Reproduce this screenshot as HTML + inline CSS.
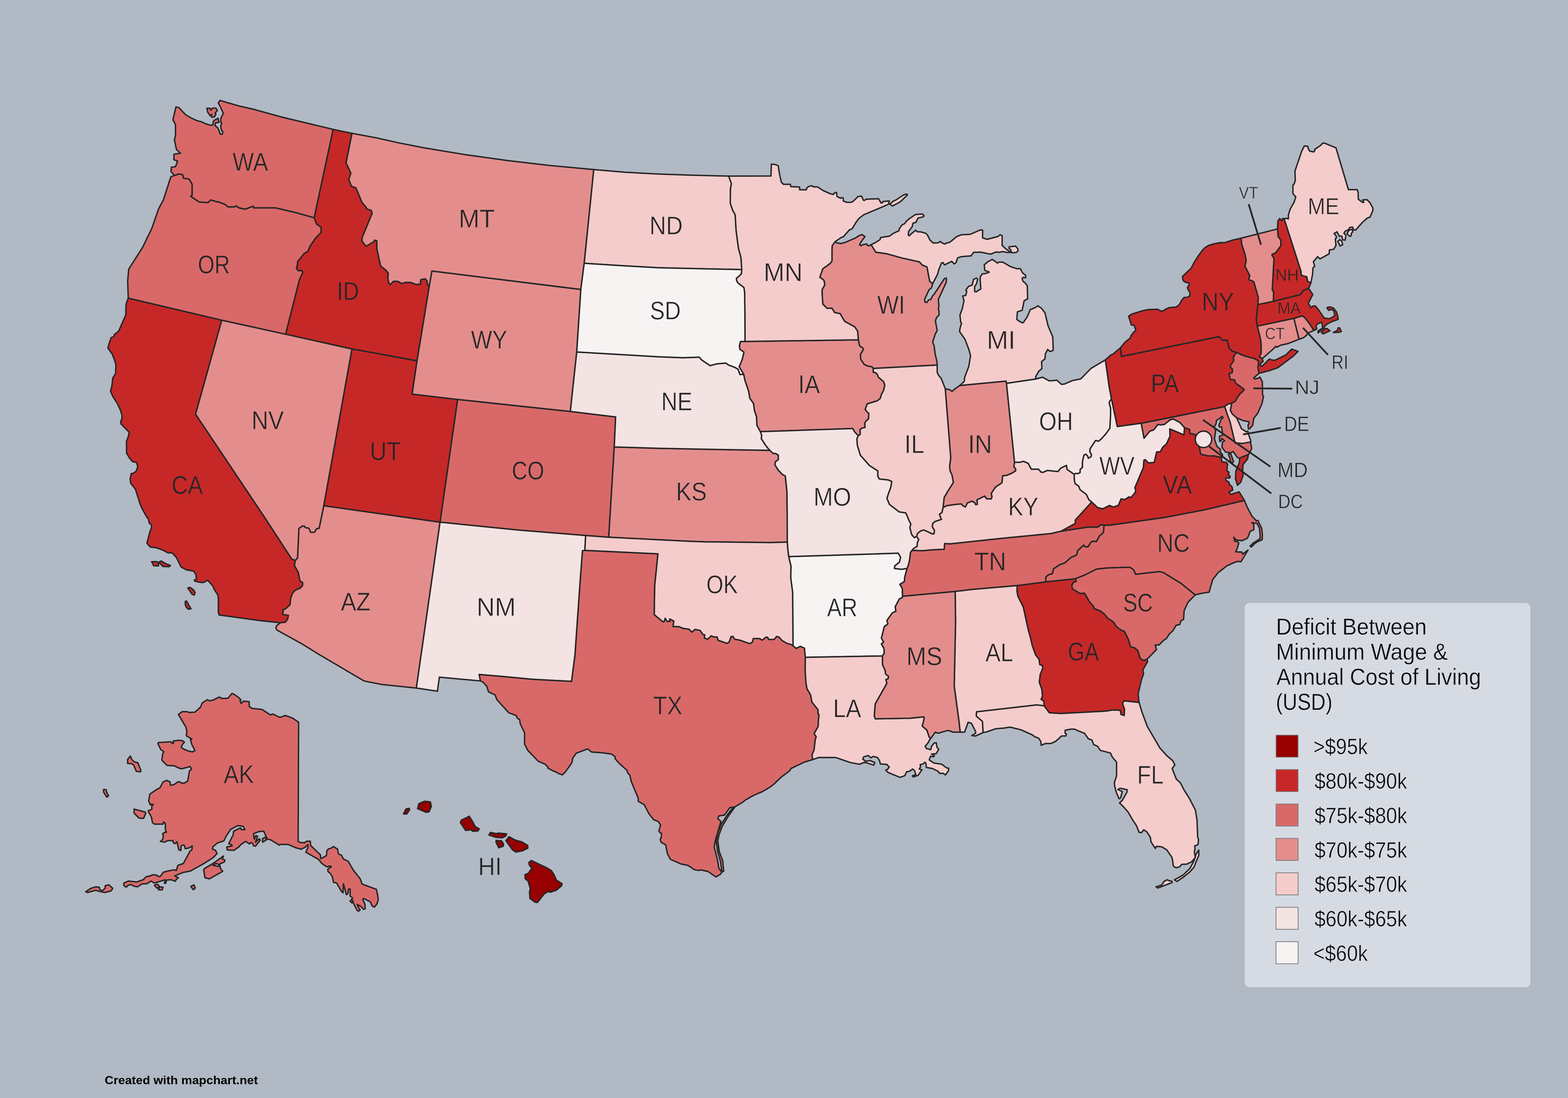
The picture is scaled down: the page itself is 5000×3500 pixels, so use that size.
<!DOCTYPE html>
<html lang="en"><head><meta charset="utf-8"><title>Deficit Between Minimum Wage &amp; Annual Cost of Living (USD)</title>
<style>html,body{margin:0;padding:0;background:#b1b9c4}body{width:5000px;height:3500px}svg{display:block}text{font-family:"Liberation Sans",sans-serif;white-space:pre}.st path,.st circle{fill-rule:evenodd;stroke:#262626;stroke-width:4.5;stroke-linejoin:round;stroke-linecap:round}.ld path{stroke:#262626;stroke-width:5.6;fill:none;stroke-linecap:butt}</style></head><body>
<svg role="img" aria-label="US states map: deficit between minimum wage and annual cost of living" width="5000" height="3500" viewBox="0 0 5000 3500">
<rect width="5000" height="3500" fill="#b1b9c4"/>
<g class="st">
<path id="AK" fill="#d96969" d="M739,2211.1 742.8,2211.1 759.6,2222.2 768.7,2231.3 765.3,2234.1 769.2,2242.3 776.4,2235.1 794.1,2236.5 795,2251.9 803.7,2258.1 835.8,2261.4 862.6,2279.2 869.3,2275.8 892.3,2286.8 910.5,2280.6 933,2289.2 952.2,2302.2 950.7,2682.1 957,2685.4 971.3,2686.4 977.6,2681.6 989.5,2681.6 990.5,2695 1021.6,2724.7 1023.1,2737.2 1040.8,2727.6 1042.2,2711.8 1048,2705.6 1054.2,2704.6 1063.3,2698.4 1076.7,2707 1079.1,2721.4 1089.7,2727.1 1094.9,2738.1 1110.3,2745.3 1127,2774.1 1148.6,2801.4 1154.8,2818.2 1200.3,2834.9 1204.7,2855.5 1206.1,2867.5 1202.7,2880.4 1194.1,2891.5 1186.9,2888.1 1180.7,2874.7 1159.6,2864.1 1156.8,2867.5 1163.9,2881.9 1164.4,2897.2 1159.6,2898.6 1151,2890 1139,2882.8 1143.8,2893.9 1148.6,2900.1 1143.8,2904.4 1139,2902.5 1127,2879.5 1124.7,2869.9 1122.3,2878 1116,2872.3 1124.7,2862.7 1116.5,2856.5 1116.5,2834 1111.7,2834 1108.8,2849.8 1104.5,2851.7 1094.9,2817.2 1094,2845.9 1088.7,2841.1 1073.4,2814.8 1063.3,2812.4 1060,2795.6 1052.8,2783.7 1045.6,2777.9 1045.6,2770.2 1056.6,2762.1 1051.8,2760.7 1041.8,2763.1 1026.4,2752.5 1015.9,2739.6 975.2,2716.6 981.9,2702.2 981.9,2692.6 972.3,2701.3 960.3,2707 942.6,2702.2 918.6,2691.7 893.7,2691.7 890.9,2694.1 862.6,2676.8 852.5,2674.9 841,2649.5 825.2,2650.9 808.4,2657.7 810.8,2674.9 815.6,2663.9 821.4,2665.3 814.7,2684.5 826.7,2673.5 830,2678.3 814.7,2697.4 808.4,2696 806.1,2689.3 800.3,2685.4 795.5,2690.2 783.1,2682.1 767.7,2692.6 761.5,2699.8 746.2,2710.4 724.6,2709.4 723.2,2699.8 739.9,2696.5 739,2692.6 729.4,2689.3 743.8,2660.5 744.7,2649.5 766.8,2639 770.1,2644.7 781.1,2644.7 774.9,2633.7 758.1,2631.8 735.6,2643.8 721.3,2665.3 713.6,2680.7 693.5,2686.9 679.1,2698.9 677.7,2707 687.2,2710.4 692,2720.4 680.5,2733.4 650.3,2752.5 607.2,2776.5 583.3,2781.3 556.9,2791.8 568.9,2798 561.7,2803.8 559.3,2809.1 545.9,2804.3 531.5,2805.2 528.2,2815.8 524.3,2815.8 527.2,2804.3 492.2,2814.8 481.7,2808.6 468.3,2817.2 453.9,2817.2 438.1,2826.8 428.5,2825.3 417,2819.6 407,2822.9 402.7,2828.2 395,2823.4 395,2814.8 409.4,2808.6 436.2,2811.4 456.3,2804.3 465.9,2794.7 477.9,2792.3 487.5,2788.4 499.4,2789.4 506.6,2794.7 511.4,2793.2 521,2780.3 535.4,2776.5 555.5,2772.6 561.7,2775 567.5,2758.3 584.7,2752.5 605.8,2713.2 612,2708.4 613,2696 604.8,2702.2 590.5,2705.6 588.1,2695 581.8,2693.6 577.5,2697.4 577,2710.8 570.3,2709.4 564.1,2683 558.4,2689.3 553.1,2686.9 551.2,2679.2 534.4,2679.7 524.8,2684.5 511.4,2682.1 518.6,2675.9 521,2665.3 518.6,2657.7 524.8,2653.3 530.6,2652.9 527.2,2644.7 527.2,2625.6 522,2619.8 519.6,2627 492.2,2627 486,2621.7 482.7,2604 473.1,2587.2 473.1,2583.9 484.1,2580 484.1,2568.1 488.9,2564.7 483.6,2563.3 479.3,2565.7 474,2552.7 477.9,2531.2 499.4,2516.8 510.5,2510.6 519.6,2492.8 531.5,2487.6 542.6,2492.8 543.5,2503.4 554.5,2501 568.9,2491.4 580.9,2496.2 587.1,2496.2 598.6,2490 603.9,2457.9 610.6,2451.6 606.3,2443.5 579.4,2450.7 570.3,2448.3 555.5,2441.1 533,2440.1 517.2,2424.3 516.2,2421 518.6,2403.7 522,2395.6 512.8,2389.4 503.3,2370.2 505.2,2366.8 544.9,2364.5 548.8,2369.2 553.1,2370.2 552.1,2362.1 568.9,2359.7 581.8,2361.1 588.1,2365.9 581.8,2373.1 577.5,2382.2 587.1,2388.4 598.6,2393.2 613.5,2397 621.6,2392.2 612,2374 607.2,2357.3 612,2355.8 595.3,2346.2 593.8,2341.5 596.2,2334.3 592.9,2318 568.9,2277.3 580.9,2268.6 596.2,2268.6 603.9,2271 621.6,2270.1 639.3,2254.3 644.6,2240.8 661.4,2230.3 668.1,2234.1 680.5,2231.3 695.9,2223.1 701.6,2222.2 706.4,2226.5 727,2225.5ZM407,2421 415.6,2410 420.4,2421 427.6,2428.2 439.5,2431.5 449.1,2455.5 448.2,2460.3 434.8,2458.8 426.1,2438.7 418.9,2433.9 407,2433.9ZM330.3,2516.8 338,2516.8 339.9,2524.9 346.1,2536.9 340.4,2540.8 330.3,2524.9ZM427.6,2579.1 462.5,2588.2 464.9,2592 457.8,2608.8 443.4,2607.8 427.6,2592ZM649.4,2772.6 652.7,2768.3 679.1,2752.5 712.6,2728.6 708.8,2738.1 717.4,2741.5 715,2747.7 700.7,2754 703,2768.3 710.2,2777.4 668.1,2801.4 653.7,2798ZM273.3,2842.6 289.6,2831.6 305.4,2826.8 316.4,2828.2 318.8,2836.4 327,2838.8 335.6,2830.6 335.1,2823.4 347.1,2820.5 359.5,2831.6 354.7,2839.7 334.1,2845 318.8,2842.1 305.4,2837.8 279.1,2845ZM492.2,2822 501.8,2818.2 509,2825.8 500.9,2831.6ZM509,2826.8 520,2828.2 517.2,2836.4 505.2,2836.4ZM608.7,2825.8 618.2,2820.5 622.6,2830.1 616.8,2836.4ZM837.2,2673.5 845.3,2668.7 850.1,2676.8 837.2,2684.5ZM679.1,2758.3 688.7,2752.5 699.7,2756.4 696.8,2762.1Z"/>
<path id="AL" fill="#f4cccc" d="M3045.8,1885.3 3047.1,1983.3 3042.8,2186.7 3058,2299.9 3061.8,2333.8 3075.8,2333.8 3087.1,2302.4 3097.6,2305.5 3111.1,2332.1 3111.1,2337.3 3098.9,2344.7 3111.1,2346 3135,2335.1 3132.8,2299.4 3113.2,2282.8 3114.1,2268.9 3304.9,2247.1 3329.5,2249.8 3328.7,2234.6 3319.9,2229.4 3324.3,2218.5 3322.1,2196.7 3314.3,2174.9 3316.9,2151 3325.2,2129.2 3324.3,2121.3 3315.6,2118.3 3313.4,2101.7 3302.5,2087.8 3291.6,2057.3 3285.1,2029 3279.4,2009.4 3263.3,1935.4 3245.9,1900.5 3242.9,1883.1 3243.7,1866.6 3100,1878.7Z"/>
<path id="AR" fill="#f7f3f3" d="M2514.9,1774.2 2522.3,1804.7 2521.4,1841.7 2527.5,1888.3 2528.8,2058.6 2538.9,2066.9 2551.9,2060.4 2565,2066 2568,2095.2 2814.1,2090.9 2819.8,2081.3 2818.5,2066 2810.6,2053 2817.6,2046.4 2810.6,2034.2 2819.8,1997.6 2831.5,1988.5 2828,1978 2845.5,1953.7 2856.8,1948.4 2854.6,1934.1 2867.7,1909.2 2877.3,1904.9 2878.1,1900.5 2877.3,1875.7 2869.4,1862.6 2883.8,1853.9 2885.1,1839.5 2892.5,1811.7 2875.1,1814.7 2852,1812.1 2853.3,1803.8 2867.7,1792.5 2872,1776.4 2864.2,1763.3Z"/>
<path id="AZ" fill="#e48d8d" d="M941.4,1786.4 938.8,1802.5 951,1824.3 956.2,1851.3 964.9,1857 964.9,1866.6 957.5,1874.4 942.2,1880.9 933.5,1889.6 927,1906.2 924.8,1927.5 910.5,1940.6 901.7,1943.2 903.5,1946.3 900.9,1957.1 903.5,1959.3 919.6,1961.5 916.6,1974.6 909.6,1983.3 893.5,1985 881.3,1995.5 880,2002.9 882.6,2008.1 966.2,2054.3 1018.5,2086.9 1160.9,2170.6 1214.5,2181.4 1327.7,2193.2 1403.2,1664.5 1032.6,1612 1017.6,1684.1 1009.8,1684.9 1002.4,1696.7 991,1696.7 984.9,1683.6 974,1681.9 970.6,1677.1 964.9,1676.7 953.1,1684.1 948.8,1778.6Z"/>
<path id="CA" fill="#c62828" d="M408.9,950.3 707.2,1020.6 623.6,1320.2 844.4,1649.9 930.5,1782.1 941.4,1786.4 938.8,1802.5 951,1824.3 956.2,1851.3 964.9,1857 964.9,1866.6 957.5,1874.4 942.2,1880.9 933.5,1889.6 927,1906.2 924.8,1927.5 910.5,1940.6 901.7,1943.2 903.5,1946.3 900.9,1957.1 903.5,1959.3 919.6,1961.5 916.6,1974.6 909.6,1983.3 893.5,1985 826.8,1978 698.3,1960.2 696.2,1950.6 696.2,1910.1 694.9,1897 683.1,1878.7 678.7,1867.9 662.2,1849.6 648.3,1857 636.5,1856.1 621.3,1852.6 619.5,1849.1 626.5,1846.1 624.3,1830.8 617.3,1820.4 594.7,1816.5 577.7,1807.8 562,1776.4 549,1762.5 535.9,1762.5 518.5,1753.3 498,1745.9 479.3,1743.7 468.4,1731.5 478.4,1693.6 482.8,1682.8 482.8,1672.3 476.2,1668.4 473.2,1654.4 469,1649.9 451.6,1618.6 445.9,1604.2 432,1559.8 416.7,1540.2 415,1527.1 418.5,1509.2 424.1,1509.2 434.1,1502.3 439.4,1487 435,1474 422.8,1471.8 411.9,1458.7 403.7,1444.3 403.2,1407.3 408.9,1392.1 411.9,1378.1 385.4,1350.7 385.4,1340.7 388,1338.9 389.3,1324.6 383.6,1306.3 373.2,1284.5 361,1265.8 352.3,1247.5 356.6,1230.9 359.7,1204.8 368.4,1190.9 369.7,1162.5 364.5,1146 357.9,1128.6 344,1109.4 347.9,1094.6 354.4,1076.3 363.2,1072.8 364,1066.7 378.4,1055.4 401,1004 401.9,969.6ZM483.6,1790.3 500.2,1790.3 505.8,1796.9 505.4,1803.8 490.2,1803.4ZM506.7,1791.6 514.1,1788.2 528.5,1796.9 543.7,1802.5 539.4,1806.4 518.9,1805.6ZM599,1874.4 605.6,1872.2 617.8,1880.9 622.1,1889.6 619.1,1897 612.1,1894ZM590.8,1917.1 594.7,1915.8 609.1,1940.6 600.3,1941.9 593.8,1935.4 590.8,1926.7Z"/>
<path id="CO" fill="#d96969" d="M1459.1,1273.2 1818.5,1311.5 1963.1,1328.9 1958.7,1424.7 1941.1,1712.4 1867.5,1707.1 1648.4,1689.3 1403.2,1664.5Z"/>
<path id="CT" fill="#e48d8d" d="M4009.2,1039.6 4126,1014.8 4142.5,1081.4 4107.8,1095 4084.2,1100.2 4071.2,1107 4068.6,1103.6 4056.8,1115.4 4024.9,1143.4 4015.5,1136.8 4021,1127.2 4021.5,1107.6 4020.7,1088 4017.1,1071Z"/>
<path id="DE" fill="#f4cccc" d="M3927.9,1285 3923.4,1308.3 3929.4,1319.5 3943,1331.3 3950.9,1348.3 3958.7,1366.6 3974.4,1376.5 3979.1,1374.4 3980.9,1383.5 3988.8,1405.7 3987.5,1408.9 3962.6,1413.6 3938.3,1412.3 3922.1,1344.3 3913,1319.5 3905.1,1296 3914.3,1288.7Z"/>
<path id="FL" fill="#f4cccc" d="M3329.5,2249.8 3346.1,2272 3383.1,2274.2 3529,2266.4 3548.6,2262.9 3572.6,2264.2 3574.7,2277.3 3584.8,2280.7 3585.6,2260.7 3579.1,2242.4 3584.8,2233.7 3632.2,2238.9 3641,2268.4 3658.4,2315.4 3698.5,2384.2 3720.3,2408.2 3739.9,2425.2 3746.4,2438.2 3737.7,2449.6 3750.8,2483.1 3763.9,2495.3 3776,2518.8 3792.2,2544.1 3811.8,2582 3817,2613.8 3819.2,2669.5 3821.8,2676 3820.5,2692.2 3809.6,2696.5 3810.9,2706.5 3808.3,2715.2 3811.8,2733.5 3808.7,2737 3798.7,2747.9 3784.8,2754.4 3768.2,2755.3 3761.7,2762.7 3751.7,2766.2 3745.6,2764 3741.2,2759.7 3739.9,2746.6 3736.8,2732.7 3720.3,2708.7 3705.1,2699.6 3687.6,2697.8 3684.1,2704.4 3670.2,2683.4 3668,2668.2 3656.3,2650.8 3647.1,2645.1 3639.7,2654.3 3632.3,2653 3623.6,2631.2 3611.4,2612.9 3597.5,2588.9 3585.3,2574.6 3570,2559.3 3578.7,2551.5 3594,2524.5 3594,2517.1 3572.2,2512.7 3564.8,2516.6 3578.7,2523.6 3573.1,2544.1 3568.7,2546.3 3560,2526.7 3554.8,2507.1 3553.5,2494 3560.5,2473.5 3560.5,2429.5 3547,2413.4 3540.9,2400.3 3508.2,2391.6 3500,2378.7 3487.4,2373.4 3482.1,2359.1 3470.4,2354.7 3458.2,2337.3 3440.8,2330.7 3426.8,2324.2 3414.6,2324.2 3396.3,2327.7 3396.3,2336.4 3400.7,2340.3 3398.5,2346 3385,2346 3367.6,2362.1 3351.5,2369.9 3334.1,2369.9 3320.1,2375.6 3318.8,2363.4 3312.3,2353.4 3299.2,2348.2 3292.7,2342.9 3255.7,2326.4 3220.8,2317.7 3202.1,2320.7 3175.1,2322.9 3146.8,2332.9 3135,2335.1 3132.8,2299.4 3113.2,2282.8 3114.1,2268.9 3304.9,2247.1ZM3686.3,2827.2 3705.1,2820.6 3711.6,2809.8 3721.6,2804.5 3729,2807.6 3736.8,2808.9 3737.7,2813.2 3692,2830.7ZM3745.1,2804.5 3772.6,2789.3 3794.3,2768.4 3807.4,2744.4 3813.9,2722.6 3822.6,2709.6 3822.6,2727 3816.1,2742.2 3807.4,2764 3794.3,2779.3 3772.6,2796.7 3753,2809.8Z"/>
<path id="GA" fill="#c62828" d="M3334.3,1854.8 3243.7,1866.6 3242.9,1883.1 3245.9,1900.5 3263.3,1935.4 3279.4,2009.4 3285.1,2029 3291.6,2057.3 3302.5,2087.8 3313.4,2101.7 3315.6,2118.3 3324.3,2121.3 3325.2,2129.2 3316.9,2151 3314.3,2174.9 3322.1,2196.7 3324.3,2218.5 3319.9,2229.4 3328.7,2234.6 3329.5,2249.8 3346.1,2272 3383.1,2274.2 3529,2266.4 3548.6,2262.9 3572.6,2264.2 3574.7,2277.3 3584.8,2280.7 3585.6,2260.7 3579.1,2242.4 3584.8,2233.7 3632.2,2238.9 3629.2,2211.9 3640.1,2166.2 3646.6,2147.9 3644.4,2135.7 3659.7,2108.7 3657.5,2100.9 3647.5,2105.2 3636.6,2100 3627.9,2073.4 3618.3,2065.2 3605.2,2061.7 3597.8,2036.8 3585.6,2012.9 3570.4,2005.9 3558.2,1995.5 3553,1985.5 3544.3,1978 3532.5,1971.1 3522.5,1958 3508.1,1947.1 3488.9,1939.7 3487.6,1933.2 3475.4,1920.1 3458.4,1890.9 3444.1,1891.8 3419.3,1876.6 3417.9,1865.7 3422.3,1857 3431.9,1853.5 3428.8,1844.8Z"/>
<path id="HI" fill="#960000" d="M1286.6,2594.6 1294.9,2578.4 1304.9,2576.6 1306.4,2581 1297,2594.6ZM1331.5,2577.6 1335.7,2561.9 1353.7,2554.1 1372.3,2556.2 1375.4,2570.6 1368.4,2587.5 1359,2589.4ZM1470.8,2614.5 1496.4,2601.9 1506.1,2617.6 1515.2,2634.6 1528.3,2642.4 1523.6,2649 1507.4,2649.7 1500.3,2643.7 1497,2645.8 1484.7,2647.1 1468.2,2622.8ZM1558.9,2661.5 1564.1,2653.4 1584.5,2657.6 1587.6,2655.5 1615.3,2658.1 1613.2,2664.6 1602,2670.6 1582.4,2669.3ZM1581.9,2679 1598.9,2680.3 1605.9,2690.2 1604.6,2697.3 1590.5,2702.5 1581.9,2684.8ZM1613.2,2679.8 1623.2,2667.2 1643.8,2678.2 1663.7,2683.4 1683,2695.2 1683,2703.8 1666.8,2711.7 1645.4,2716.1 1634.7,2709.6ZM1686.4,2749 1694.3,2743 1743.9,2766.6 1758.3,2775.2 1766.1,2786.9 1774,2805.2 1792.2,2817 1790.9,2823.5 1773.4,2837.9 1754.9,2844.2 1748.3,2841.6 1735.3,2849.4 1713.9,2876.8 1706,2875.8 1689.8,2864 1688.5,2843.1 1691.1,2833.2 1684.3,2809.1 1674.7,2801 1674.1,2788.2 1684.3,2784.1 1696.1,2767.1 1688.2,2758.7Z"/>
<path id="IA" fill="#e48d8d" d="M2375.7,1088.5 2737.2,1083.3 2741.1,1102.4 2752,1109.8 2752.4,1115.5 2743.7,1129.9 2744.6,1144.7 2755.5,1161.2 2766.4,1166.5 2780.3,1169.1 2784.7,1174.3 2784.7,1186.5 2792.5,1188.2 2798.2,1193.9 2800.3,1201.7 2817.8,1216.6 2821.3,1227.9 2817.8,1244 2810.8,1257.1 2806.9,1270.1 2797.7,1277.5 2765.1,1287.5 2759,1305 2764.2,1312.4 2770.7,1318 2769.4,1335.5 2760.7,1342.9 2757.7,1349.8 2758.5,1362.5 2749,1364.6 2742.4,1369.4 2743.3,1384.2 2736.8,1389 2725,1376.8 2719.3,1365.9 2424.5,1376 2413.6,1355.9 2412.3,1328 2405.7,1309.3 2402.7,1286.2 2390.9,1269.3 2387.5,1248.3 2375.7,1213.5 2371.3,1193 2357,1169.1 2366.6,1146 2372.2,1122.5 2359.1,1113.3 2357.8,1101.1 2361.3,1088.5Z"/>
<path id="ID" fill="#c62828" d="M1062.2,412.4 1001.7,694.2 1009.1,713.8 1023.9,724.7 1023.4,741.6 1006.4,758.6 989.5,783.4 981.6,800.9 969.4,808.7 949.4,833.5 947.6,847.9 945,855.3 950.7,862.7 962,862.7 965.5,868.4 954.6,892.3 927.2,999.9 910.6,1065.4 1122.3,1112.5 1200,1126.4 1329.8,1150.3 1369,911.5 1363.8,908.9 1361.6,894.5 1355.5,888.4 1342,891.5 1340.2,905.4 1327.2,907.1 1311.1,900.2 1293,900.2 1281.3,903.7 1267.8,896.7 1254.7,896.7 1244.3,907.1 1239.9,902.8 1236.8,887.1 1238.2,871.4 1231.2,861.8 1213.8,847.9 1201.6,792.2 1201.6,767.8 1195,765.2 1192,770.4 1170.2,783.4 1165.9,783.4 1154.5,768.6 1154.5,758.2 1186.8,679.8 1184.1,670.6 1169.3,665.9 1167.6,660.6 1155,646.3 1134.9,598.8 1121,594 1112.3,572.6 1118.8,551.7 1103.6,519.1 1122.3,425Z"/>
<path id="IL" fill="#f4cccc" d="M3014.4,1239.5 3031.8,1459.5 3028.3,1485.6 3029.6,1500.9 3035.7,1513.9 3040.1,1537.9 3020.9,1568.4 3010.9,1585.8 3007.4,1617.6 3003.7,1633.8 2995.9,1639 2999.4,1649.9 3002.3,1655.7 2981.8,1662.3 2974.4,1668.4 2973.1,1679.3 2979.6,1690.2 2978.7,1701 2974,1702.4 2945.6,1689.3 2936.1,1692.3 2926,1700.2 2923,1710.2 2915.6,1714.1 2906.9,1703.7 2901.2,1681.4 2904.3,1670.6 2897.7,1657.5 2894.9,1649.9 2888.3,1635.1 2866.6,1631.6 2836.1,1607.7 2828.2,1588.9 2831.7,1577.2 2840.4,1553.2 2843.5,1534.9 2832.6,1530.1 2804.3,1527.1 2799,1518.4 2799,1501 2772.9,1484.4 2743.3,1450.9 2733.7,1419.1 2732.4,1398.6 2736.8,1389 2743.3,1384.2 2742.4,1369.4 2749,1364.6 2758.5,1362.5 2757.7,1349.8 2760.7,1342.9 2769.4,1335.5 2770.7,1318 2764.2,1312.4 2759,1305 2765.1,1287.5 2797.7,1277.5 2806.9,1270.1 2810.8,1257.1 2817.8,1244 2821.3,1227.9 2817.8,1216.6 2800.3,1201.7 2798.2,1193.9 2792.5,1188.2 2784.7,1186.5 2784.7,1174.3 2988.5,1163.4 2988.5,1187.4 2992.9,1196.1 3001.6,1207Z"/>
<path id="IN" fill="#e48d8d" d="M3061,1228.7 3208.2,1214.7 3209.5,1222.1 3235.2,1473.4 3233,1487.8 3238.7,1494.3 3238.7,1500.9 3226.5,1508.7 3210.4,1515.2 3197.3,1517 3195.1,1538.8 3174.2,1553.1 3161.1,1572.7 3163.3,1583.6 3161.1,1590.2 3145.9,1590.2 3139.4,1581.4 3115.4,1593.6 3116.7,1607.6 3111.1,1608.9 3108.9,1603.2 3100.2,1597.6 3084.9,1603.2 3078.4,1616.3 3069.7,1611.9 3065.3,1606.3 3043.6,1608.4 3019.6,1611.9 3007.4,1617.6 3010.9,1585.8 3020.9,1568.4 3040.1,1537.9 3035.7,1513.9 3029.6,1500.9 3028.3,1485.6 3031.8,1459.5 3014.4,1239.5 3027,1241.7 3035.7,1247.4 3047.9,1237.4Z"/>
<path id="KS" fill="#e48d8d" d="M1958.7,1424.7 2100,1429.1 2274.2,1432.6 2455,1435.6 2465.9,1445.6 2473.7,1445.6 2482,1450.9 2482,1464.8 2472.4,1472.6 2471.1,1481.4 2481.1,1497.9 2494.2,1511.8 2504.2,1517.5 2509.4,1566.3 2510.3,1649.9 2510.5,1728 2457,1729.4 2250.1,1727.2 2200,1725.4 2084.1,1719.8 1941.1,1712.4Z"/>
<path id="KY" fill="#f4cccc" d="M3481.3,1600.2 3472.6,1593.2 3463.9,1575.8 3444.3,1561 3439.9,1549.7 3429,1542.2 3426,1532.2 3425.5,1511.8 3402.9,1496.5 3400.7,1483.4 3382.4,1492.2 3373.7,1503 3339.7,1499.6 3326.7,1505.2 3320.1,1505.2 3311.4,1495.6 3288.8,1495.6 3278.7,1476.9 3263.5,1470.4 3253.5,1473.4 3235.2,1473.4 3233,1487.8 3238.7,1494.3 3238.7,1500.9 3226.5,1508.7 3210.4,1515.2 3197.3,1517 3195.1,1538.8 3174.2,1553.1 3161.1,1572.7 3163.3,1583.6 3161.1,1590.2 3145.9,1590.2 3139.4,1581.4 3115.4,1593.6 3116.7,1607.6 3111.1,1608.9 3108.9,1603.2 3100.2,1597.6 3084.9,1603.2 3078.4,1616.3 3069.7,1611.9 3065.3,1606.3 3043.6,1608.4 3019.6,1611.9 3007.4,1617.6 3003.7,1633.8 2995.9,1639 2999.4,1649.9 3002.3,1655.7 2981.8,1662.3 2974.4,1668.4 2973.1,1679.3 2979.6,1690.2 2978.7,1701 2974,1702.4 2945.6,1689.3 2936.1,1692.3 2926,1700.2 2923,1710.2 2929.5,1719.8 2925.2,1729.4 2924.3,1741.6 2913.4,1748.1 2907.8,1754.6 2942.6,1755.5 2975.3,1752.4 3011,1751.1 3012.3,1732.8 3029.7,1733.7 3200,1715.4 3350.4,1701 3383.3,1693.4 3429,1668.6 3429,1657.7Z"/>
<path id="LA" fill="#f4cccc" d="M2568,2095.2 2814.1,2090.9 2814.1,2118.3 2822.8,2137.9 2823.7,2147.9 2833.7,2156.6 2831.5,2164 2825,2166.2 2828,2178.4 2791,2243.7 2788,2281.6 2791,2291.2 2901.2,2289.5 2945.6,2285.1 2947,2288.2 2944.8,2299.9 2940.8,2314.2 2956,2327.7 2962.5,2348.2 2967.3,2354.7 2963.9,2359.1 2958.6,2369.1 2949.9,2378.7 2954.3,2386.1 2968.2,2389.5 2970.4,2378.7 2979.1,2368.6 2985.6,2367.8 2987.8,2382.1 2993.5,2388.7 2984.8,2402.6 2970.4,2403.5 2979.1,2408.3 2977.8,2412.2 2967.3,2410.5 2963,2422.2 2977.8,2432.2 3003,2436.1 3019.2,2448.3 3024.8,2448.3 3024.8,2456.2 3014.8,2470.1 3007.4,2464.9 2995.6,2464.9 2991.3,2458.4 2973.4,2449.7 2953.8,2446.2 2953,2434.4 2949.5,2429.6 2943.4,2435.3 2934.2,2437.5 2935.5,2444 2931.2,2451.4 2939.9,2453.6 2928.1,2471 2912.5,2476.7 2909.4,2473.2 2920.3,2468.8 2916.8,2457.1 2910.3,2451.4 2901.6,2457.9 2890.7,2460.5 2885.5,2472.3 2870.2,2478 2831.9,2462.3 2824.5,2454.9 2831,2451.8 2835.4,2444.9 2827.5,2436.6 2807.1,2435.3 2804.9,2425.3 2798.3,2414.4 2784.4,2411.3 2777.4,2415.7 2768.7,2408.3 2753.9,2412.6 2751.3,2420 2761.3,2426.6 2774.4,2424.4 2789.6,2430.9 2786.1,2438.8 2757,2429.6 2740.9,2436.1 2712.1,2430.9 2665.5,2414.8 2611.1,2414.4 2591.1,2421.3 2589.3,2405.7 2595.8,2390.9 2599.3,2359.1 2602.4,2348.2 2595.8,2338.6 2608.9,2315.5 2609.4,2299.9 2611.6,2278.1 2608.5,2275.1 2608.1,2262 2588.9,2238.1 2584.6,2215 2573.3,2195.8 2570.2,2179.3 2567.2,2135.7Z"/>
<path id="MA" fill="#c62828" d="M4173.1,918.9 4156.1,925.9 4147,939 4059.9,960.7 4011.1,970.6 4005.8,1019.2 4009.2,1039.6 4126,1014.8 4153,1007 4162.6,1014.8 4177.5,1034.9 4189.5,1053.5 4198.7,1048.8 4196.6,1039.6 4200,1033.1 4214.4,1026.6 4218.3,1047.5 4222.7,1042.2 4231.4,1033.1 4248.9,1024.5 4267.2,1018.2 4265.9,1007 4261.1,993.4 4252.8,982.6 4243.6,978.7 4234,979 4231.4,982.1 4237.1,989.4 4247.6,986 4252.8,991.3 4256.7,1004.3 4248.9,1011.4 4238.4,1016.1 4222.2,1013.5 4205.7,989.2 4194.8,975.6 4186.1,975.6 4181.7,980.8 4172.3,968.3 4173.6,963.3 4186.1,939ZM4203.1,1054.8 4217.5,1046.1 4213.6,1052.2 4203.1,1061ZM4213.6,1060 4224,1047.5 4231.9,1047.5 4241,1054.5 4218.8,1064.4ZM4251.5,1060 4264.5,1053.2 4267.2,1044.8 4272.4,1045.6 4277.1,1056.6 4269.8,1059.2Z"/>
<path id="MD" fill="#d96969" d="M3905.1,1296 3913,1319.5 3922.1,1344.3 3938.3,1412.3 3962.6,1413.6 3987.5,1408.9 3991.4,1429.8 3986.1,1441 3980.9,1448.9 3952.2,1460.6 3945.6,1458 3932.1,1439.2 3924.7,1442.9 3907.8,1441 3896.5,1425.3 3898.1,1409.7 3905.1,1405.2 3896.5,1397.9 3893.4,1405.7 3889.5,1407.1 3888.7,1390.6 3898.6,1386.9 3897.8,1379.6 3895.5,1361.3 3888.2,1360.8 3886.8,1356.1 3893.4,1337.8 3899.9,1331.3 3897.3,1326.8 3889.5,1333.4 3879,1340.4 3877.7,1351.4 3872.5,1358.7 3876.4,1374.4 3872.5,1398.4 3880.3,1422.7 3892.1,1432.4 3890.2,1438.4 3898.6,1450.2 3894.7,1458.5 3871.2,1453.3 3851.6,1453.3 3829.4,1448.1 3826.7,1439.7 3825.4,1428 3815,1408.4 3813.7,1386.1 3793.6,1380.9 3793.6,1369.2 3777.1,1363.4 3762.7,1347 3741.3,1335.7 3731.4,1338.3 3713.1,1353 3700,1354.8 3692.5,1352.8 3679.4,1370.2 3666.4,1374.6 3648.1,1397.2 3638.9,1349.3ZM3916.9,1447.6 3924.7,1446.3 3933.4,1471.1 3929.4,1476.3 3923.4,1469.8 3922.1,1460.6Z"/>
<path id="ME" fill="#f4cccc" d="M4094.7,697.1 4101.2,695.8 4108.3,697.9 4108.3,685.6 4114.3,666 4126.3,645.1 4132.1,627.9 4122.9,616.9 4122.9,590.2 4126.8,586.3 4130.7,573.8 4130,567.2 4129.4,545 4150.3,483.6 4159.2,465.3 4171,466.4 4171,471.9 4176,481.5 4188.8,484.4 4192.7,480.5 4192.2,476.3 4211,463.5 4218.3,455.9 4224.6,456.7 4260.1,471.3 4299.8,604.6 4327.8,604.6 4330.7,613 4331.2,634.7 4344.3,645.1 4348.7,644.9 4345.6,637.3 4359.1,636.5 4367.8,645.6 4377.7,662.6 4377.7,671.3 4368.6,692.2 4360.5,694.8 4344.3,708.9 4322.8,733.2 4316,732.7 4313.4,724 4304.5,724.8 4299.8,732.4 4289.4,737.1 4285.5,743.6 4292,750.2 4289.4,765.3 4281.5,764.5 4279.4,754.1 4277.6,752.3 4271.1,753.3 4263.2,738.9 4254.1,744.4 4260.1,751.5 4261.9,756.7 4258,761.9 4260.1,782.8 4252.8,794.6 4239.2,796.7 4238.4,809 4209.1,825.3 4201.8,818 4188,834.2 4192.2,848.9 4186.7,853.6 4185.6,873.7 4180.1,901.9 4169.2,895.9 4167.1,882.3 4149.6,877.6 4148.3,864.5ZM4295.1,744.4 4302.4,733.2 4310.8,731.4 4314.2,738.9 4309.5,743.1 4308.2,752.3 4303.7,753.3ZM4265.9,769.8 4272.4,763.8 4278.4,769 4281.5,780.2 4273.7,784.1Z"/>
<path id="MI" fill="#f4cccc" d="M2777.7,780 2792.5,803.9 2826.5,808.7 2876.6,822.6 2931.4,834.8 2941,844.9 2955.8,851 2964.5,896.7 2974.1,904.1 2989.8,874 2994.2,857.5 3002.4,837.9 3006.8,837 3011.6,844.4 3035.1,833.1 3042.9,841.4 3048.6,837 3053.8,821.8 3064.7,818.3 3096.8,815.4 3104.5,804.2 3127.6,803.7 3154.6,809.4 3161.1,809.4 3175.5,803.3 3187.3,804.2 3196,802 3215.6,805.1 3223,804.2 3208.2,794.2 3195.6,782.4 3195.6,751 3188.6,748.4 3182.9,753.7 3148.1,762.8 3133.3,758.4 3133.3,733.6 3126.3,732.8 3093.8,747 3064.7,748.6 3050.3,754.3 3032.9,769.1 3024.7,773.9 3019,773.9 3013.8,777.8 3005.1,775.2 2998.5,769.5 2992.4,773.9 2975.4,774.7 2965,764.3 2957.1,748.6 2951.5,743.4 2935.4,739 2925.3,739 2920.1,733.8 2904.9,746 2899.7,751.7 2896.2,749.5 2897.5,737.7 2908.8,722.5 2911,711.6 2921,708.5 2927.1,695 2944.9,691.1 2946.3,686.8 2940.6,682 2918.8,684.1 2900.5,696.3 2889.2,706.4 2884.4,713.3 2876.6,716.8 2867.9,729 2866.6,735.5 2847.8,744.3 2836.9,752.5 2807.8,757.3 2806.4,763.9 2790.3,773.9ZM2837.8,651 2849.1,640.6 2857,637.5 2881.8,621 2891.8,618.4 2893.6,621.4 2871.3,642.8 2857.8,650.6 2845.6,656.7ZM3217.8,786.8 3238.7,784.6 3245.6,793.3 3246.5,799.4 3240.4,805.1 3225.2,805.5 3223,795.5 3217.8,792ZM3077.1,1081.6 3059.7,1056.8 3061.8,1044.6 3066.2,1029.8 3063.6,1027.2 3061,1004.5 3068.4,984.5 3074,958.4 3069.7,943.6 3079.7,941.8 3082.8,928.7 3079.7,924.8 3088.4,913.1 3100.2,908.7 3104.5,890.4 3114.1,886.5 3117.6,890.4 3114.1,903.9 3108,913.9 3108,929.2 3112.4,930.5 3127.6,920.9 3125.4,890 3126.3,881.3 3132.8,873 3143.7,871.7 3154.6,867.3 3140.2,861.7 3138.5,844.3 3150.3,834.2 3164.2,826.8 3180.7,838.6 3185.1,835.5 3197.7,835.5 3222.1,849.9 3242.2,856.4 3253.5,856.4 3260.5,869.5 3270.9,878.2 3270,885.6 3262.6,883.9 3259.1,887.8 3262.6,897.4 3267.9,900.9 3275.7,910.9 3277,952.3 3265.7,958.8 3259.6,988.9 3244.3,994.1 3242.2,1017.6 3248.3,1022.8 3260,1029.4 3263.9,1027.2 3275.7,1009.8 3285.3,987.1 3301.8,980.1 3309.7,974.9 3321.4,982.8 3332.3,997.6 3341.9,1038.1 3357.1,1074.2 3358.4,1116.7 3348.4,1120.6 3340.6,1114.1 3333.2,1128.5 3332.3,1143.7 3321.4,1152.4 3322.3,1175.1 3312.7,1182.9 3302.7,1200.3 3302.7,1208.2 3209.5,1222.1 3208.2,1214.7 3061,1228.7 3074.9,1215.6 3076.2,1202.5 3089.3,1167.7 3094.9,1134.1 3089.3,1113.2Z"/>
<path id="MN" fill="#f4cccc" d="M2323.4,561.3 2332.1,585.3 2329.1,601.4 2328.7,648.4 2336.5,671.1 2344.3,685 2347,733.4 2354.4,790 2362.6,821.3 2365.2,859.2 2363.9,872.7 2356.1,880.6 2348.3,886.7 2348.3,893.2 2352.6,901.5 2372.2,916.7 2374.4,931.5 2375.3,999.9 2375.7,1088.5 2737.2,1083.3 2734.6,1054.5 2725,1041.5 2693.2,1024 2679.3,999.9 2661.4,996 2653.1,982.5 2637,982.5 2624,969.4 2621.8,940.2 2621.8,922.8 2630.5,907.6 2627.4,893.2 2614.4,883.6 2624,856.6 2647,840.1 2653.1,832.2 2653.1,796.5 2654,782.6 2664,769.5 2683.6,756.4 2688.9,755.1 2708.4,732.9 2717.2,729.4 2729.8,708.5 2738.5,696.8 2753.3,685 2811.2,660.6 2833.4,651 2835.6,640.6 2815.6,642.3 2813,647.1 2809.5,647.1 2801.7,633.6 2761.6,634.9 2757.7,638.4 2753.3,638.4 2747.2,624.9 2735.9,626.7 2721.5,641 2714.1,644.9 2700.2,644.9 2688.9,640.6 2688.9,631 2682.8,630.1 2680.6,631.9 2669.3,626.7 2667.5,613.2 2660.1,615.3 2657.9,619.7 2648.3,617.9 2625.7,607.9 2606.5,595.7 2593.9,595.7 2588.2,591.8 2577.8,594.9 2573,598.8 2571.3,604.9 2549.9,604.9 2549.9,596.2 2521.6,594.9 2520.3,587.5 2498.5,587.5 2491.6,580.9 2485.5,553.9 2481.5,528.2 2474.6,525.2 2465.9,523.4 2459.8,523.4 2458.4,560.9Z"/>
<path id="MO" fill="#f4e3e3" d="M2424.5,1376 2719.3,1365.9 2725,1376.8 2736.8,1389 2732.4,1398.6 2733.7,1419.1 2743.3,1450.9 2772.9,1484.4 2799,1501 2799,1518.4 2804.3,1527.1 2832.6,1530.1 2843.5,1534.9 2840.4,1553.2 2831.7,1577.2 2828.2,1588.9 2836.1,1607.7 2866.6,1631.6 2888.3,1635.1 2894.9,1649.9 2897.7,1657.5 2904.3,1670.6 2901.2,1681.4 2906.9,1703.7 2915.6,1714.1 2923,1710.2 2929.5,1719.8 2925.2,1729.4 2924.3,1741.6 2913.4,1748.1 2907.8,1754.6 2903.4,1761.1 2900.3,1786.4 2895.6,1804.7 2892.5,1811.7 2875.1,1814.7 2852,1812.1 2853.3,1803.8 2867.7,1792.5 2872,1776.4 2864.2,1763.3 2514.9,1774.2 2511.8,1748.1 2510.5,1728 2510.3,1649.9 2509.4,1566.3 2504.2,1517.5 2494.2,1511.8 2481.1,1497.9 2471.1,1481.4 2472.4,1472.6 2482,1464.8 2482,1450.9 2473.7,1445.6 2465.9,1445.6 2455,1435.6 2450.6,1431.3 2441.9,1420.4 2427.5,1398.6 2428.8,1387.7Z"/>
<path id="MS" fill="#e48d8d" d="M2878.1,1900.5 2877.3,1904.9 2867.7,1909.2 2854.6,1934.1 2856.8,1948.4 2845.5,1953.7 2828,1978 2831.5,1988.5 2819.8,1997.6 2810.6,2034.2 2817.6,2046.4 2810.6,2053 2818.5,2066 2819.8,2081.3 2814.1,2090.9 2814.1,2118.3 2822.8,2137.9 2823.7,2147.9 2833.7,2156.6 2831.5,2164 2825,2166.2 2828,2178.4 2791,2243.7 2788,2281.6 2791,2291.2 2901.2,2289.5 2945.6,2285.1 2947,2288.2 2944.8,2299.9 2940.8,2314.2 2956,2327.7 2962.5,2348.2 2967.3,2354.7 2982.6,2333.8 2991.3,2337.3 3021.3,2328.6 3030.1,2329.9 3037,2333.8 3061.8,2333.8 3058,2299.9 3042.8,2186.7 3047.1,1983.3 3045.8,1885.3Z"/>
<path id="MT" fill="#e48d8d" d="M1122.3,425 1103.6,519.1 1118.8,551.7 1112.3,572.6 1121,594 1134.9,598.8 1155,646.3 1167.6,660.6 1169.3,665.9 1184.1,670.6 1186.8,679.8 1154.5,758.2 1154.5,768.6 1165.9,783.4 1170.2,783.4 1192,770.4 1195,765.2 1201.6,767.8 1201.6,792.2 1213.8,847.9 1231.2,861.8 1238.2,871.4 1236.8,887.1 1239.9,902.8 1244.3,907.1 1254.7,896.7 1267.8,896.7 1281.3,903.7 1293,900.2 1311.1,900.2 1327.2,907.1 1340.2,905.4 1342,891.5 1355.5,888.4 1361.6,894.5 1363.8,908.9 1369,911.5 1377.3,864 1852,922.8 1862.9,839.2 1893.4,540.4 1753.1,527.4 1618.1,511.7 1483.1,492.9 1352.4,471.2 1274,455.9 1200,439.4Z"/>
<path id="NC" fill="#d96969" d="M3520.4,1674.1 3539.9,1674 3709.8,1650.1 3840.4,1625.3 3968.1,1595.2 3977.6,1617.8 3992.2,1645 4003.7,1657 4005.9,1660.2 4011.3,1659.1 4023.3,1684.2 4025.5,1704.9 4024.8,1720.1 4010.2,1726.7 4000.4,1733.2 3990.6,1743.6 3986.3,1740.8 3996.1,1731 4010.2,1722.3 4017.9,1716.9 4018.3,1707.1 4016.1,1683.1 4008.1,1667.9 4000.4,1667.4 3991.7,1666.1 3997.8,1670 3998.3,1688.5 3986.3,1694 3981.9,1706 3977.6,1715.8 3960.8,1723.4 3947.1,1721.9 3940.5,1720.1 3934,1712.5 3937.7,1726.2 3944.9,1725.6 3950.3,1731.4 3944.6,1750 3940.6,1759 3960.2,1759.8 3962.4,1766.4 3979.8,1753.3 3957.1,1790.8 3947.1,1789.5 3936.2,1792.9 3912.3,1803.8 3884,1825.6 3866.6,1848.3 3855.7,1887.5 3833.9,1890.9 3811.2,1896.2 3766.4,1860 3710.6,1825.6 3697.6,1822.1 3621.3,1830.8 3614.8,1816.5 3603,1808.2 3529,1810.4 3496.3,1814.3 3457.1,1833.9 3428.8,1844.8 3334.3,1854.8 3335.2,1838.7 3343.9,1831.7 3355.7,1828.7 3359.1,1813.4 3378.7,1800.3 3396.2,1793.8 3414.5,1777.3 3433.2,1769 3436.2,1755.5 3455.8,1737.2 3458.4,1741.6 3468.9,1743.7 3478.9,1727.6 3486.8,1725 3496.3,1726.3 3505.1,1708.9 3516.8,1699.3 3519,1693.6Z"/>
<path id="ND" fill="#f4cccc" d="M1893.4,540.4 1862.9,839.2 1984.1,847 2100,853.6 2230.7,856.6 2365.2,859.2 2362.6,821.3 2354.4,790 2347,733.4 2344.3,685 2336.5,671.1 2328.7,648.4 2329.1,601.4 2332.1,585.3 2323.4,561.3 2200.2,558.3 2100,554.8 1992.9,549.1Z"/>
<path id="NE" fill="#f4e3e3" d="M1818.5,1311.5 1838.9,1122 2027.7,1132.9 2100,1137.3 2178.4,1140.3 2229.8,1138.6 2238.5,1148.2 2264.6,1165.6 2285.1,1159.9 2314.7,1157.3 2323,1163.4 2341.7,1170.4 2353.5,1176.5 2359.6,1193.9 2371.3,1193 2375.7,1213.5 2387.5,1248.3 2390.9,1269.3 2402.7,1286.2 2405.7,1309.3 2412.3,1328 2413.6,1355.9 2424.5,1376 2428.8,1387.7 2427.5,1398.6 2441.9,1420.4 2450.6,1431.3 2455,1435.6 2274.2,1432.6 2100,1429.1 1958.7,1424.7 1963.1,1328.9Z"/>
<path id="NH" fill="#c62828" d="M4073.8,729.8 4074.6,705.2 4080.8,696.6 4087.6,703.7 4090.2,696.6 4094.7,697.1 4148.3,864.5 4149.6,877.6 4167.1,882.3 4169.2,895.9 4180.1,901.9 4173.1,918.9 4156.1,925.9 4147,939 4059.9,960.7 4060.7,953.4 4061.2,929.9 4056.8,924.6 4062.5,822.7 4056.3,815.4 4056.3,810.7 4067.2,806.3 4084.2,783.5 4084.2,765.7 4075.6,754.1Z"/>
<path id="NJ" fill="#d96969" d="M3943.1,1123.2 3962.7,1132.4 3983.6,1138.9 4000.1,1142.8 4013.7,1150.7 4011.1,1171.8 4014.9,1190.1 3997.9,1204.5 4000.5,1207.7 4012.3,1205.8 4017.5,1201.9 4025.3,1217.1 4026.1,1259.4 4029.3,1263.3 4024,1286.8 4011,1316.9 3997.9,1333.9 3994.8,1354.8 3984.8,1367.1 3980.9,1367.1 3979.6,1354.8 3982.8,1350.9 3982.2,1344.3 3963.9,1340.9 3943,1331.3 3929.4,1319.5 3923.4,1308.3 3927.9,1285 3939.1,1279 3945.6,1267.2 3954,1255.5 3966.6,1243.7 3967.1,1241.1 3940.4,1221.5 3936.5,1211.1 3923.4,1209.8 3919,1192 3929.4,1187.5 3930,1176.3 3923.4,1170.6 3924.2,1164 3933.9,1149.7 3933.4,1136.6Z"/>
<path id="NM" fill="#f4e3e3" d="M1403.2,1664.5 1327.7,2193.2 1394.9,2203.2 1401,2158.4 1532.1,2170.6 1527.8,2150.1 1604.9,2156.6 1696.3,2165.3 1822.6,2171.9 1833.5,2087.8 1841.4,1974.6 1851,1839.5 1857.5,1755.5 1864.9,1754.6 1867.5,1707.1 1648.4,1689.3Z"/>
<path id="NV" fill="#e48d8d" d="M707.2,1020.6 910.6,1065.4 1122.3,1112.5 1032.6,1612 1017.6,1684.1 1009.8,1684.9 1002.4,1696.7 991,1696.7 984.9,1683.6 974,1681.9 970.6,1677.1 964.9,1676.7 953.1,1684.1 948.8,1778.6 941.4,1786.4 930.5,1782.1 844.4,1649.9 623.6,1320.2Z"/>
<path id="NY" fill="#c62828" d="M3588,1090.3 3603.2,1078.6 3606.7,1069.9 3615,1058.5 3622,1053.3 3616.7,1036.8 3607.6,1035.9 3598.9,1008 3609.8,1001 3644.6,990.2 3662,986.7 3691.6,985.8 3700.3,991 3707.8,991.5 3716.5,985.8 3728.2,980.6 3751.3,978.4 3760.5,971 3768.7,956.2 3775.7,947.9 3785.3,947.9 3794,943.1 3794.4,932.2 3787.9,922.6 3786.6,916.6 3791.8,907.4 3791.8,901.7 3783.1,900.9 3774.8,896.5 3771.3,890 3770.9,880.8 3798.3,855.1 3808.4,835.5 3821,815.9 3834.1,797.6 3841.9,789.8 3852.8,782.8 3868,778 3890.7,773.3 3905.1,773.7 3932.1,765 3957.8,759.3 3959.5,778 3970.4,811.6 3973.9,831.2 3969.9,848.6 3985.2,878.2 3982.1,891.3 3998.1,897.7 4012.4,947.6 4011.1,970.6 4005.8,1019.2 4009.2,1039.6 4017.1,1071 4020.7,1088 4021.5,1107.6 4021,1127.2 4015.5,1136.8 4024.9,1143.4 4028,1152 4018.9,1159.8 4020.2,1167.1 4026.7,1165.6 4043.2,1148.6 4047.6,1144.7 4055.5,1147.5 4064.6,1148.6 4099.9,1131.6 4119,1112.8 4139.1,1120.1 4123.4,1135.8 4074.6,1172.1 4049,1181 4014.9,1190.1 4011.1,1171.8 4013.7,1150.7 4000.1,1142.8 3983.6,1138.9 3962.7,1132.4 3943.1,1123.2 3930.1,1120.1 3919.6,1110.2 3913.1,1084.8 3900,1084.8 3897.2,1084.1 3887.2,1073.2 3575.8,1136.3 3572.7,1108.9Z"/>
<path id="OH" fill="#f4e3e3" d="M3209.5,1222.1 3302.7,1208.2 3324.5,1202.5 3346.3,1214.3 3370.2,1212.1 3384.6,1225.2 3394.2,1224.3 3419,1213.4 3446.4,1207.8 3479.1,1174.2 3524.8,1147.2 3536.6,1230.8 3544.4,1272.2 3540.1,1276.6 3537,1284.4 3541.4,1300.5 3541.4,1322.3 3539.2,1365 3526.1,1383.3 3512.6,1398.5 3503,1406.4 3493.5,1404.2 3475.6,1431.2 3475.6,1440.8 3480.4,1448.6 3479.1,1456 3470.4,1460.8 3468.2,1453.8 3462.5,1447.7 3456.4,1450.8 3451.7,1472.6 3451.7,1490 3444.3,1496.5 3444.3,1506.5 3437.7,1509.6 3429,1509.6 3425.5,1511.8 3402.9,1496.5 3400.7,1483.4 3382.4,1492.2 3373.7,1503 3339.7,1499.6 3326.7,1505.2 3320.1,1505.2 3311.4,1495.6 3288.8,1495.6 3278.7,1476.9 3263.5,1470.4 3253.5,1473.4 3235.2,1473.4Z"/>
<path id="OK" fill="#f4cccc" d="M1867.5,1707.1 1941.1,1712.4 2084.1,1719.8 2200,1725.4 2250.1,1727.2 2457,1729.4 2510.5,1728 2511.8,1748.1 2514.9,1774.2 2522.3,1804.7 2521.4,1841.7 2527.5,1888.3 2528.8,2058.6 2522.3,2054.3 2509.2,2050.8 2494,2042.1 2484.4,2031.2 2476.6,2029 2468.7,2038.6 2451.3,2038.6 2447.4,2031.2 2442.2,2031.2 2430.8,2040.8 2421.3,2035.5 2402.1,2035.5 2399,2047.3 2390.3,2051.7 2359.8,2040.8 2342.9,2037.7 2337.2,2029 2331.5,2029 2325,2047.3 2318.5,2050.8 2290,2041.2 2286.5,2030.3 2275.6,2030.3 2267.8,2026.8 2256.9,2037.7 2246,2033.8 2247.3,2023.8 2242.1,2023.3 2232.1,2009.4 2215.9,2006.4 2206.8,2015.1 2196.3,2005.5 2178.5,2003.3 2164.5,1997.6 2146.3,1997.6 2148.4,1979.8 2135.4,1973.3 2136.2,1981.1 2127.5,1981.1 2121,1971.1 2118.8,1980.2 2114.5,1982.4 2105.7,1975.4 2086.1,1959.3 2087.5,1867.9 2097.9,1765.5 1864.9,1754.6Z"/>
<path id="OR" fill="#d96969" d="M555.7,559.6 570.9,554.4 582.2,556.5 584.8,567.9 603.1,570.9 612.7,587.5 612.7,622.3 608.4,625.8 635.4,644.1 662.8,645.8 672.4,637.1 692,643.6 695.5,642.8 718.1,651.9 726,658.9 746.4,659.8 753,656.3 762.5,662.8 782.6,666.7 807.4,657.1 808.7,662.4 878,662.4 944.6,678 1001.7,694.2 1009.1,713.8 1023.9,724.7 1023.4,741.6 1006.4,758.6 989.5,783.4 981.6,800.9 969.4,808.7 949.4,833.5 947.6,847.9 945,855.3 950.7,862.7 962,862.7 965.5,868.4 954.6,892.3 927.2,999.9 910.6,1065.4 707.2,1020.6 408.9,950.3 407.1,894.9 410.6,857.5 454.6,788.7 484.2,727.7 505.6,665.9 521.3,636.2 544.8,563.5Z"/>
<path id="PA" fill="#c62828" d="M3943.1,1123.2 3930.1,1120.1 3919.6,1110.2 3913.1,1084.8 3900,1084.8 3897.2,1084.1 3887.2,1073.2 3575.8,1136.3 3572.7,1108.9 3547.9,1129.4 3542.2,1131.5 3524.8,1147.2 3536.6,1230.8 3544.4,1272.2 3562.7,1359.8 3638.9,1349.3 3905.1,1296 3914.3,1288.7 3927.9,1285 3939.1,1279 3945.6,1267.2 3954,1255.5 3966.6,1243.7 3967.1,1241.1 3940.4,1221.5 3936.5,1211.1 3923.4,1209.8 3919,1192 3929.4,1187.5 3930,1176.3 3923.4,1170.6 3924.2,1164 3933.9,1149.7 3933.4,1136.6Z"/>
<path id="RI" fill="#e48d8d" d="M4126,1014.8 4153,1007 4162.6,1014.8 4177.5,1034.9 4189.5,1053.5 4170.5,1061.8 4166.6,1068.4 4156.1,1076.7 4142.5,1081.4Z"/>
<path id="SC" fill="#d96969" d="M3428.8,1844.8 3457.1,1833.9 3496.3,1814.3 3529,1810.4 3603,1808.2 3614.8,1816.5 3621.3,1830.8 3697.6,1822.1 3710.6,1825.6 3766.4,1860 3811.2,1896.2 3788.2,1920.1 3776,1946.3 3774.2,1974.6 3766.4,1978 3762,1990.7 3750.3,1993.3 3740.2,2010.7 3728.5,2021.2 3718.5,2036.8 3711.9,2039.9 3695.8,2056 3683.6,2056 3688,2070.4 3664.9,2094.3 3657.5,2100.9 3647.5,2105.2 3636.6,2100 3627.9,2073.4 3618.3,2065.2 3605.2,2061.7 3597.8,2036.8 3585.6,2012.9 3570.4,2005.9 3558.2,1995.5 3553,1985.5 3544.3,1978 3532.5,1971.1 3522.5,1958 3508.1,1947.1 3488.9,1939.7 3487.6,1933.2 3475.4,1920.1 3458.4,1890.9 3444.1,1891.8 3419.3,1876.6 3417.9,1865.7 3422.3,1857 3431.9,1853.5Z"/>
<path id="SD" fill="#f7f3f3" d="M1862.9,839.2 1852,922.8 1838.9,1122 2027.7,1132.9 2100,1137.3 2178.4,1140.3 2229.8,1138.6 2238.5,1148.2 2264.6,1165.6 2285.1,1159.9 2314.7,1157.3 2323,1163.4 2341.7,1170.4 2353.5,1176.5 2359.6,1193.9 2371.3,1193 2357,1169.1 2366.6,1146 2372.2,1122.5 2359.1,1113.3 2357.8,1101.1 2361.3,1088.5 2375.7,1088.5 2375.3,999.9 2374.4,931.5 2372.2,916.7 2352.6,901.5 2348.3,893.2 2348.3,886.7 2356.1,880.6 2363.9,872.7 2365.2,859.2 2230.7,856.6 2100,853.6 1984.1,847Z"/>
<path id="TN" fill="#d96969" d="M3383.3,1693.4 3468.2,1680.3 3500,1680.3 3509.6,1672.9 3520.4,1674.1 3519,1693.6 3516.8,1699.3 3505.1,1708.9 3496.3,1726.3 3486.8,1725 3478.9,1727.6 3468.9,1743.7 3458.4,1741.6 3455.8,1737.2 3436.2,1755.5 3433.2,1769 3414.5,1777.3 3396.2,1793.8 3378.7,1800.3 3359.1,1813.4 3355.7,1828.7 3343.9,1831.7 3335.2,1838.7 3334.3,1854.8 3243.7,1866.6 3100,1878.7 3045.8,1885.3 2878.1,1900.5 2877.3,1875.7 2869.4,1862.6 2883.8,1853.9 2885.1,1839.5 2892.5,1811.7 2895.6,1804.7 2900.3,1786.4 2903.4,1761.1 2907.8,1754.6 2942.6,1755.5 2975.3,1752.4 3011,1751.1 3012.3,1732.8 3029.7,1733.7 3200,1715.4 3350.4,1701Z"/>
<path id="TX" fill="#d96969" d="M1864.9,1754.6 1857.5,1755.5 1851,1839.5 1841.4,1974.6 1833.5,2087.8 1822.6,2171.9 1696.3,2165.3 1604.9,2156.6 1527.8,2150.1 1532.1,2170.6 1539.5,2174 1551.7,2186.7 1557.8,2205.4 1578.7,2215 1584.4,2230.2 1622.3,2272 1645.4,2280.7 1650.6,2290.3 1657.1,2293.8 1658,2299.9 1658.8,2306.7 1672.7,2335.9 1672.7,2372 1682.8,2391.6 1716.3,2426.5 1738.5,2436.1 1747.2,2445.2 1746.8,2448.3 1764.6,2457.8 1772.9,2460.5 1780.7,2465.7 1792.9,2470 1803.4,2460 1823.4,2431.7 1826.5,2416.5 1837.4,2401.2 1873.5,2387.3 1886.6,2397.3 1920.1,2399.5 1950.6,2403.8 1961.5,2412.5 1961.5,2418.6 1975.4,2434.3 1999.8,2456.1 2000.7,2462.6 2008.5,2471.3 2012.9,2490.9 2035.5,2545.4 2034.7,2553.7 2054.3,2565 2069.5,2594.2 2084.3,2612.9 2099.6,2619 2106.5,2630.3 2100.9,2648.6 2104.4,2654.3 2109.6,2656.4 2108.7,2670.4 2105.2,2673.9 2107.4,2684.3 2122.6,2693 2128.3,2721.3 2137.9,2739.2 2171.4,2754 2194.5,2758.8 2213.2,2771.9 2228,2774.9 2233.7,2772.7 2257.7,2778 2282.9,2795.4 2296.9,2787.1 2302.1,2780.6 2292.5,2768.4 2288.2,2742.2 2277.3,2699.6 2281.6,2676.9 2299,2618.1 2289,2609.4 2292.5,2600.7 2309.9,2598.5 2327.4,2574.6 2342.6,2572.4 2368.7,2557.1 2377.4,2549.7 2404.9,2534.5 2430.6,2523.6 2453.7,2510.1 2466.7,2500.5 2492,2476.6 2518.1,2457 2522.5,2449.6 2564.7,2429.5 2591.1,2421.3 2589.3,2405.7 2595.8,2390.9 2599.3,2359.1 2602.4,2348.2 2595.8,2338.6 2608.9,2315.5 2609.4,2299.9 2611.6,2278.1 2608.5,2275.1 2608.1,2262 2588.9,2238.1 2584.6,2215 2573.3,2195.8 2570.2,2179.3 2567.2,2135.7 2568,2095.2 2565,2066 2551.9,2060.4 2538.9,2066.9 2528.8,2058.6 2522.3,2054.3 2509.2,2050.8 2494,2042.1 2484.4,2031.2 2476.6,2029 2468.7,2038.6 2451.3,2038.6 2447.4,2031.2 2442.2,2031.2 2430.8,2040.8 2421.3,2035.5 2402.1,2035.5 2399,2047.3 2390.3,2051.7 2359.8,2040.8 2342.9,2037.7 2337.2,2029 2331.5,2029 2325,2047.3 2318.5,2050.8 2290,2041.2 2286.5,2030.3 2275.6,2030.3 2267.8,2026.8 2256.9,2037.7 2246,2033.8 2247.3,2023.8 2242.1,2023.3 2232.1,2009.4 2215.9,2006.4 2206.8,2015.1 2196.3,2005.5 2178.5,2003.3 2164.5,1997.6 2146.3,1997.6 2148.4,1979.8 2135.4,1973.3 2136.2,1981.1 2127.5,1981.1 2121,1971.1 2118.8,1980.2 2114.5,1982.4 2105.7,1975.4 2086.1,1959.3 2087.5,1867.9 2097.9,1765.5ZM2342.6,2573.7 2323,2600.7 2303.4,2633.4 2292.5,2661.7 2289,2681.3 2293.4,2713.9 2304.7,2744.4 2307.8,2777.1 2302.1,2779.3 2296.9,2744.4 2288.2,2713.9 2283.8,2681.3 2288.2,2657.3 2299,2629 2318.6,2598.5 2338.2,2573.3Z"/>
<path id="UT" fill="#c62828" d="M1122.3,1112.5 1032.6,1612 1403.2,1664.5 1459.1,1273.2 1314.1,1256.2 1329.8,1150.3 1200,1126.4Z"/>
<path id="VA" fill="#c62828" d="M3980.9,1448.9 3952.2,1460.6 3952.5,1463.2 3952.5,1473 3946,1489.3 3941.2,1500.6 3939.5,1525.9 3946,1547 3956.4,1537.2 3964.5,1514.3 3962.3,1504.5 3963.9,1480.6 3978.2,1463.2ZM3894.7,1458.5 3871.2,1453.3 3851.6,1453.3 3829.4,1448.1 3826.7,1439.7 3825.4,1428 3815,1408.4 3813.7,1386.1 3793.6,1380.9 3793.6,1369.2 3777.1,1363.4 3775.3,1386.1 3730.1,1367.1 3730.8,1390.6 3719.6,1414.9 3707.8,1425.3 3700,1439.7 3688.2,1440.8 3680.3,1473.9 3662,1475.6 3652,1465.2 3647.6,1466.9 3645.9,1490 3618.5,1555.3 3621.5,1561.8 3620.6,1568.4 3606.7,1585.8 3600.2,1583.6 3586.7,1592.3 3574.9,1590.2 3566.2,1610.6 3549.7,1616.3 3537.9,1611.1 3516.1,1622 3499.6,1617.6 3481.3,1600.2 3429,1657.7 3429,1668.6 3383.3,1693.4 3468.2,1680.3 3500,1680.3 3509.6,1672.9 3520.4,1674.1 3539.9,1674 3709.8,1650.1 3840.4,1625.3 3968.1,1595.2 3951.4,1567.7 3925.3,1576 3918.8,1568.1 3931.2,1562.2 3928.6,1551.4 3919.9,1543.7 3919.4,1537.6 3908.5,1530.7 3908.5,1523.7 3921.6,1523.7 3922.7,1517.6 3916.6,1514.3 3919.4,1505.6 3912.2,1500.2 3914.4,1479.5 3910.7,1474 3896.3,1471.9Z"/>
<path id="VT" fill="#e48d8d" d="M3957.8,759.3 3959.5,778 3970.4,811.6 3973.9,831.2 3969.9,848.6 3985.2,878.2 3982.1,891.3 3998.1,897.7 4012.4,947.6 4011.1,970.6 4059.9,960.7 4060.7,953.4 4061.2,929.9 4056.8,924.6 4062.5,822.7 4056.3,815.4 4056.3,810.7 4067.2,806.3 4084.2,783.5 4084.2,765.7 4075.6,754.1 4073.8,729.8Z"/>
<path id="WA" fill="#d96969" d="M555.7,559.6 570.9,554.4 582.2,556.5 584.8,567.9 603.1,570.9 612.7,587.5 612.7,622.3 608.4,625.8 635.4,644.1 662.8,645.8 672.4,637.1 692,643.6 695.5,642.8 718.1,651.9 726,658.9 746.4,659.8 753,656.3 762.5,662.8 782.6,666.7 807.4,657.1 808.7,662.4 878,662.4 944.6,678 1001.7,694.2 1062.2,412.4 996.9,396.7 896.7,372.7 805.2,347.5 766,338.8 724.7,327 701.6,320 695.9,327.9 705.1,345.7 712,361 704.2,377.5 703.7,389.3 706.8,393.6 703.7,401 705.9,414.5 710.3,419.8 709.4,427.2 702.4,428 698.5,416.7 694.6,407.6 686.3,401 686.8,392.3 698.1,389.7 695.5,376.7 683.3,383.6 679.8,388 678.9,398.4 670.2,398.9 655.8,394.5 641.9,388 628.4,384.9 609.2,375.8 593.1,366.6 582.2,355.7 570.9,343.1 560.9,340.9 551.3,381.9 559.6,397.1 559.6,432 556.1,445.9 562.6,476.4 575.3,488.6 554.8,491.6 554.4,509.1 566.1,513.4 559.6,531.3 546.5,533 545.2,546.1ZM659.8,344.9 670.2,345.3 672.4,351.4 678,344.4 688.5,344.4 693.3,352.3 685.9,360.1 688.5,363.6 684.1,372.3 676.3,374 673.3,371 675.4,364.5 671.5,367.5 669.8,368.4 662.4,357.5Z"/>
<path id="WI" fill="#e48d8d" d="M2664,769.5 2654,782.6 2653.1,796.5 2653.1,832.2 2647,840.1 2624,856.6 2614.4,883.6 2627.4,893.2 2630.5,907.6 2621.8,922.8 2621.8,940.2 2624,969.4 2637,982.5 2653.1,982.5 2661.4,996 2679.3,999.9 2693.2,1024 2725,1041.5 2734.6,1054.5 2737.2,1083.3 2741.1,1102.4 2752,1109.8 2752.4,1115.5 2743.7,1129.9 2744.6,1144.7 2755.5,1161.2 2766.4,1166.5 2780.3,1169.1 2784.7,1174.3 2988.5,1163.4 2987.2,1150.3 2982,1128.6 2978.5,1101.6 2974.1,1090.7 2982,1065.4 2988.5,1053.7 2982.8,1023.2 2986.3,1012.3 2994.2,1004.4 2994.2,999.9 2994.2,990.3 2992,986 2994.2,975.1 2992,954.6 3016.8,901 3018.1,890.2 3016.8,885.8 3010.7,889.3 2981.5,934.1 2972.8,944.6 2969.3,953.3 2960.2,956.8 2955.8,964.2 2949.3,962.9 2948.4,954.2 2962.4,923.7 2970.2,917.6 2974.1,904.1 2964.5,896.7 2955.8,851 2941,844.9 2931.4,834.8 2876.6,822.6 2826.5,808.7 2792.5,803.9 2777.7,780 2772,783.4 2766.4,782.6 2763.8,777.8 2753.3,779.5 2745,783.4 2740.7,780.8 2747.6,768.2 2758.1,754.3 2749,747.7 2738.5,751.7 2728,758.6 2694.5,773 2680.6,776.5 2667.1,773.9Z"/>
<path id="WV" fill="#f4e3e3" d="M3777.1,1363.4 3762.7,1347 3741.3,1335.7 3731.4,1338.3 3713.1,1353 3700,1354.8 3692.5,1352.8 3679.4,1370.2 3666.4,1374.6 3648.1,1397.2 3638.9,1349.3 3562.7,1359.8 3544.4,1272.2 3540.1,1276.6 3537,1284.4 3541.4,1300.5 3541.4,1322.3 3539.2,1365 3526.1,1383.3 3512.6,1398.5 3503,1406.4 3493.5,1404.2 3475.6,1431.2 3475.6,1440.8 3480.4,1448.6 3479.1,1456 3470.4,1460.8 3468.2,1453.8 3462.5,1447.7 3456.4,1450.8 3451.7,1472.6 3451.7,1490 3444.3,1496.5 3444.3,1506.5 3437.7,1509.6 3429,1509.6 3425.5,1511.8 3426,1532.2 3429,1542.2 3439.9,1549.7 3444.3,1561 3463.9,1575.8 3472.6,1593.2 3481.3,1600.2 3499.6,1617.6 3516.1,1622 3537.9,1611.1 3549.7,1616.3 3566.2,1610.6 3574.9,1590.2 3586.7,1592.3 3600.2,1583.6 3606.7,1585.8 3620.6,1568.4 3621.5,1561.8 3618.5,1555.3 3645.9,1490 3647.6,1466.9 3652,1465.2 3662,1475.6 3680.3,1473.9 3688.2,1440.8 3700,1439.7 3707.8,1425.3 3719.6,1414.9 3730.8,1390.6 3730.1,1367.1 3775.3,1386.1Z"/>
<path id="WY" fill="#e48d8d" d="M1369,911.5 1377.3,864 1852,922.8 1838.9,1122 1818.5,1311.5 1459.1,1273.2 1314.1,1256.2 1329.8,1150.3Z"/>
<circle id="DC" cx="3837.7" cy="1400.5" r="26.2" fill="#f4e3e3"/>
</g>
<g class="ld">
<path d="M3981.8,650.9 L4021.0,780.2"/>
<path d="M4154.8,1044.8 L4234.5,1131.1"/>
<path d="M3996.6,1237.7 L4120.7,1239.0"/>
<path d="M3963.9,1384.8 L4084.1,1363.9"/>
<path d="M3835.9,1338.3 L4051.0,1487.5"/>
<path d="M3855.6,1422.9 L4053.8,1573.1"/>
</g>
<g class="lb">
<text transform="translate(1074.3,955.6) scale(0.8765,1)" font-size="80.7" fill="#262626" stroke="#c62828" stroke-width="1.00" stroke-linejoin="round">ID</text>
<text transform="translate(631.1,870.9) scale(0.8431,1)" font-size="80.7" fill="#262626" stroke="#d96969" stroke-width="1.00" stroke-linejoin="round">OR</text>
<text transform="translate(741.6,544.0) scale(0.8942,1)" font-size="80.7" fill="#262626" stroke="#d96969" stroke-width="1.00" stroke-linejoin="round">WA</text>
<text transform="translate(2435.1,896.0) scale(0.9901,1)" font-size="80.7" fill="#262626" stroke="#f4cccc" stroke-width="1.00" stroke-linejoin="round">MN</text>
<text transform="translate(1462.6,725.3) scale(0.9896,1)" font-size="80.7" fill="#262626" stroke="#e48d8d" stroke-width="1.00" stroke-linejoin="round">MT</text>
<text transform="translate(2071.0,747.3) scale(0.9102,1)" font-size="80.7" fill="#262626" stroke="#f4cccc" stroke-width="1.00" stroke-linejoin="round">ND</text>
<text transform="translate(2072.6,1018.0) scale(0.8765,1)" font-size="80.7" fill="#262626" stroke="#f7f3f3" stroke-width="1.00" stroke-linejoin="round">SD</text>
<text transform="translate(1501.7,1110.7) scale(0.8886,1)" font-size="80.7" fill="#262626" stroke="#e48d8d" stroke-width="1.00" stroke-linejoin="round">WY</text>
<text transform="translate(1086.7,1946.0) scale(0.9187,1)" font-size="80.7" fill="#262626" stroke="#e48d8d" stroke-width="1.00" stroke-linejoin="round">AZ</text>
<text transform="translate(547.2,1574.1) scale(0.8896,1)" font-size="80.7" fill="#262626" stroke="#c62828" stroke-width="1.00" stroke-linejoin="round">CA</text>
<text transform="translate(1519.8,1962.5) scale(0.9959,1)" font-size="80.7" fill="#262626" stroke="#f4e3e3" stroke-width="1.00" stroke-linejoin="round">NM</text>
<text transform="translate(802.1,1368.0) scale(0.9184,1)" font-size="80.7" fill="#262626" stroke="#e48d8d" stroke-width="1.00" stroke-linejoin="round">NV</text>
<text transform="translate(1179.2,1465.6) scale(0.9213,1)" font-size="80.7" fill="#262626" stroke="#c62828" stroke-width="1.00" stroke-linejoin="round">UT</text>
<text transform="translate(2637.3,1964.3) scale(0.8641,1)" font-size="80.7" fill="#262626" stroke="#f7f3f3" stroke-width="1.00" stroke-linejoin="round">AR</text>
<text transform="translate(1632.1,1527.8) scale(0.8537,1)" font-size="80.7" fill="#262626" stroke="#d96969" stroke-width="1.00" stroke-linejoin="round">CO</text>
<text transform="translate(2545.3,1253.4) scale(0.9089,1)" font-size="80.7" fill="#262626" stroke="#e48d8d" stroke-width="1.00" stroke-linejoin="round">IA</text>
<text transform="translate(2155.8,1594.8) scale(0.9105,1)" font-size="80.7" fill="#262626" stroke="#e48d8d" stroke-width="1.00" stroke-linejoin="round">KS</text>
<text transform="translate(2594.1,1611.9) scale(0.9252,1)" font-size="80.7" fill="#262626" stroke="#f4e3e3" stroke-width="1.00" stroke-linejoin="round">MO</text>
<text transform="translate(2108.4,1308.2) scale(0.8866,1)" font-size="80.7" fill="#262626" stroke="#f4e3e3" stroke-width="1.00" stroke-linejoin="round">NE</text>
<text transform="translate(2252.4,1890.6) scale(0.8630,1)" font-size="80.7" fill="#262626" stroke="#f4cccc" stroke-width="1.00" stroke-linejoin="round">OK</text>
<text transform="translate(2884.1,1444.2) scale(0.9418,1)" font-size="80.7" fill="#262626" stroke="#f4cccc" stroke-width="1.00" stroke-linejoin="round">IL</text>
<text transform="translate(3087.1,1444.2) scale(0.9449,1)" font-size="80.7" fill="#262626" stroke="#e48d8d" stroke-width="1.00" stroke-linejoin="round">IN</text>
<text transform="translate(3214.4,1643.0) scale(0.8989,1)" font-size="80.7" fill="#262626" stroke="#f4cccc" stroke-width="1.00" stroke-linejoin="round">KY</text>
<text transform="translate(3146.5,1111.9) scale(1.0192,1)" font-size="80.7" fill="#262626" stroke="#f4cccc" stroke-width="1.00" stroke-linejoin="round">MI</text>
<text transform="translate(3690.0,1758.8) scale(0.8920,1)" font-size="80.7" fill="#262626" stroke="#d96969" stroke-width="1.00" stroke-linejoin="round">NC</text>
<text transform="translate(3831.9,989.9) scale(0.9250,1)" font-size="80.7" fill="#262626" stroke="#c62828" stroke-width="1.00" stroke-linejoin="round">NY</text>
<text transform="translate(3313.3,1371.0) scale(0.8946,1)" font-size="80.7" fill="#262626" stroke="#f4e3e3" stroke-width="1.00" stroke-linejoin="round">OH</text>
<text transform="translate(3670.0,1249.7) scale(0.8761,1)" font-size="80.7" fill="#262626" stroke="#c62828" stroke-width="1.00" stroke-linejoin="round">PA</text>
<text transform="translate(3707.8,1572.9) scale(0.9123,1)" font-size="80.7" fill="#262626" stroke="#c62828" stroke-width="1.00" stroke-linejoin="round">VA</text>
<text transform="translate(2797.5,1000.3) scale(0.8955,1)" font-size="80.7" fill="#262626" stroke="#e48d8d" stroke-width="1.00" stroke-linejoin="round">WI</text>
<text transform="translate(3505.4,1513.1) scale(0.8647,1)" font-size="80.7" fill="#262626" stroke="#f4e3e3" stroke-width="1.00" stroke-linejoin="round">WV</text>
<text transform="translate(3142.2,2107.6) scale(0.8989,1)" font-size="80.7" fill="#262626" stroke="#f4cccc" stroke-width="1.00" stroke-linejoin="round">AL</text>
<text transform="translate(3626.0,2497.9) scale(0.9003,1)" font-size="80.7" fill="#262626" stroke="#f4cccc" stroke-width="1.00" stroke-linejoin="round">FL</text>
<text transform="translate(3405.3,2105.2) scale(0.8483,1)" font-size="80.7" fill="#262626" stroke="#c62828" stroke-width="1.00" stroke-linejoin="round">GA</text>
<text transform="translate(2656.4,2286.3) scale(0.9109,1)" font-size="80.7" fill="#262626" stroke="#f4cccc" stroke-width="1.00" stroke-linejoin="round">LA</text>
<text transform="translate(2890.3,2120.4) scale(0.9436,1)" font-size="80.7" fill="#262626" stroke="#e48d8d" stroke-width="1.00" stroke-linejoin="round">MS</text>
<text transform="translate(3581.3,1949.1) scale(0.8468,1)" font-size="80.7" fill="#262626" stroke="#d96969" stroke-width="1.00" stroke-linejoin="round">SC</text>
<text transform="translate(3107.0,1818.0) scale(0.9427,1)" font-size="80.7" fill="#262626" stroke="#d96969" stroke-width="1.00" stroke-linejoin="round">TN</text>
<text transform="translate(2082.6,2276.7) scale(0.9036,1)" font-size="80.7" fill="#262626" stroke="#d96969" stroke-width="1.00" stroke-linejoin="round">TX</text>
<text transform="translate(1524.8,2789.3) scale(0.9316,1)" font-size="80.5" fill="#262626" stroke="#b1b9c4" stroke-width="1.00" stroke-linejoin="round">HI</text>
<text transform="translate(713.3,2496.4) scale(0.8924,1)" font-size="81.2" fill="#262626" stroke="#d96969" stroke-width="1.00" stroke-linejoin="round">AK</text>
<text transform="translate(4170.0,683.0) scale(0.9113,1)" font-size="73.6" fill="#262626" stroke="#f4cccc" stroke-width="1.00" stroke-linejoin="round">ME</text>
<text transform="translate(4066.9,894.5) scale(0.9504,1)" font-size="54.3" fill="#262626" stroke="#c62828" stroke-width="1.00" stroke-linejoin="round">NH</text>
<text transform="translate(3950.5,632.8) scale(0.8908,1)" font-size="53.7" fill="#262626" stroke="#b1b9c4" stroke-width="1.00" stroke-linejoin="round">VT</text>
<text transform="translate(4033.8,1081.2) scale(0.9015,1)" font-size="52.1" fill="#262626" stroke="#e48d8d" stroke-width="1.00" stroke-linejoin="round">CT</text>
<text transform="translate(4073.5,1000.2) scale(0.9493,1)" font-size="52.1" fill="#262626" stroke="#c62828" stroke-width="1.00" stroke-linejoin="round">MA</text>
<text transform="translate(4246.3,1176.0) scale(0.8501,1)" font-size="62.5" fill="#262626" stroke="#b1b9c4" stroke-width="1.00" stroke-linejoin="round">RI</text>
<text transform="translate(4094.7,1373.9) scale(0.8565,1)" font-size="67.3" fill="#262626" stroke="#b1b9c4" stroke-width="1.00" stroke-linejoin="round">DE</text>
<text transform="translate(4073.4,1521.3) scale(0.9387,1)" font-size="66.3" fill="#262626" stroke="#b1b9c4" stroke-width="1.00" stroke-linejoin="round">MD</text>
<text transform="translate(4128.7,1255.6) scale(1.0104,1)" font-size="63.8" fill="#262626" stroke="#b1b9c4" stroke-width="1.00" stroke-linejoin="round">NJ</text>
<text transform="translate(4075.4,1620.4) scale(0.8657,1)" font-size="63.2" fill="#262626" stroke="#b1b9c4" stroke-width="1.00" stroke-linejoin="round">DC</text>
</g>
<g class="lg">
<rect x="3969" y="1922" width="911" height="1225" rx="16" ry="16" fill="#d6dbe3"/>
<text transform="translate(4069.0,2022.9) scale(0.9335,1)" font-size="74.1" fill="#0a0a0a" stroke="#d6dbe3" stroke-width="0.80" stroke-linejoin="round">Deficit Between</text>
<text transform="translate(4069.0,2103.0) scale(0.9411,1)" font-size="74.1" fill="#0a0a0a" stroke="#d6dbe3" stroke-width="0.80" stroke-linejoin="round">Minimum Wage &amp;</text>
<text transform="translate(4070.2,2183.2) scale(0.9321,1)" font-size="74.1" fill="#0a0a0a" stroke="#d6dbe3" stroke-width="0.80" stroke-linejoin="round">Annual Cost of Living</text>
<text transform="translate(4068.5,2263.4) scale(0.8765,1)" font-size="74.1" fill="#0a0a0a" stroke="#d6dbe3" stroke-width="0.80" stroke-linejoin="round">(USD)</text>
<rect x="4069" y="2343.3" width="70.3" height="70.3" fill="#960000" stroke="#7a7a7a" stroke-width="2.4"/>
<text transform="translate(4188.1,2404.3) scale(0.8919,1)" font-size="70.6" fill="#0a0a0a" stroke="#d6dbe3" stroke-width="1.00" stroke-linejoin="round">&gt;$95k</text>
<rect x="4069" y="2453.0" width="70.3" height="70.3" fill="#c62828" stroke="#7a7a7a" stroke-width="2.4"/>
<text transform="translate(4191.7,2514.1) scale(0.8951,1)" font-size="70.6" fill="#0a0a0a" stroke="#d6dbe3" stroke-width="1.00" stroke-linejoin="round">$80k-$90k</text>
<rect x="4069" y="2562.8" width="70.3" height="70.3" fill="#d96969" stroke="#7a7a7a" stroke-width="2.4"/>
<text transform="translate(4191.7,2623.8) scale(0.8951,1)" font-size="70.6" fill="#0a0a0a" stroke="#d6dbe3" stroke-width="1.00" stroke-linejoin="round">$75k-$80k</text>
<rect x="4069" y="2672.5" width="70.3" height="70.3" fill="#e48d8d" stroke="#7a7a7a" stroke-width="2.4"/>
<text transform="translate(4191.7,2733.6) scale(0.8951,1)" font-size="70.6" fill="#0a0a0a" stroke="#d6dbe3" stroke-width="1.00" stroke-linejoin="round">$70k-$75k</text>
<rect x="4069" y="2782.3" width="70.3" height="70.3" fill="#f4cccc" stroke="#7a7a7a" stroke-width="2.4"/>
<text transform="translate(4191.7,2843.3) scale(0.8951,1)" font-size="70.6" fill="#0a0a0a" stroke="#d6dbe3" stroke-width="1.00" stroke-linejoin="round">$65k-$70k</text>
<rect x="4069" y="2892.0" width="70.3" height="70.3" fill="#f4e3e3" stroke="#7a7a7a" stroke-width="2.4"/>
<text transform="translate(4191.7,2953.1) scale(0.8951,1)" font-size="70.6" fill="#0a0a0a" stroke="#d6dbe3" stroke-width="1.00" stroke-linejoin="round">$60k-$65k</text>
<rect x="4069" y="3001.8" width="70.3" height="70.3" fill="#f7f3f3" stroke="#7a7a7a" stroke-width="2.4"/>
<text transform="translate(4188.1,3062.8) scale(0.8919,1)" font-size="70.6" fill="#0a0a0a" stroke="#d6dbe3" stroke-width="1.00" stroke-linejoin="round">&lt;$60k</text>
</g>
<text transform="translate(333.8,3456.3) scale(1.0351,1)" font-size="37.6" font-weight="bold" fill="#000">Created with mapchart.net</text>
</svg></body></html>
